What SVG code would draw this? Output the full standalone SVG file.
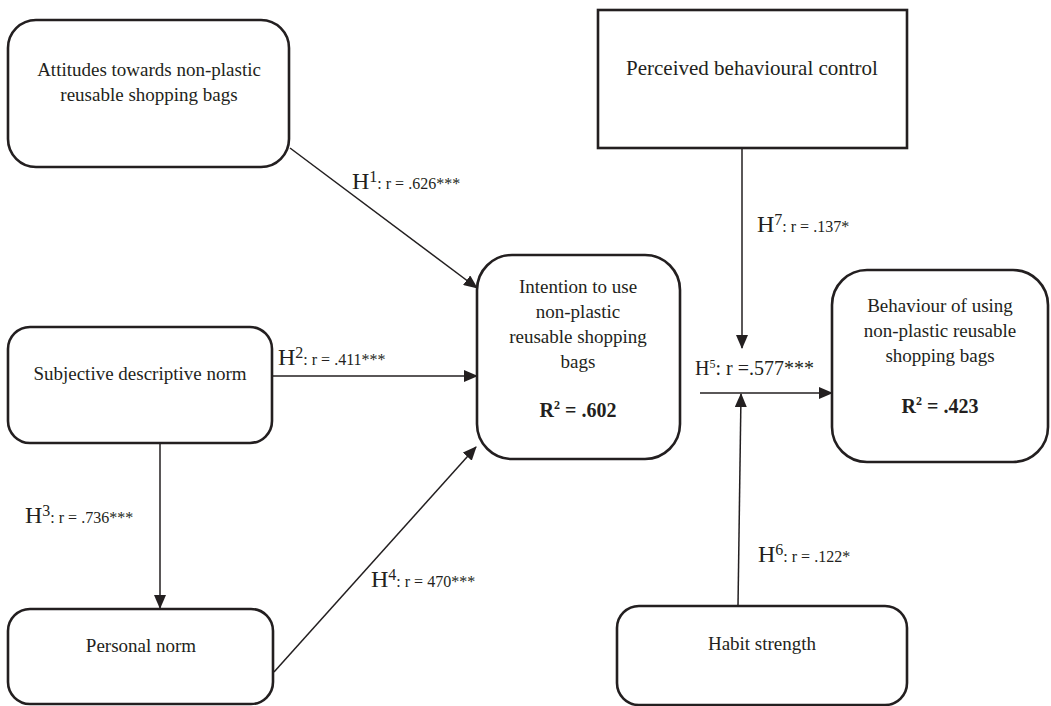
<svg xmlns="http://www.w3.org/2000/svg" width="1051" height="706" viewBox="0 0 1051 706">
<style>
.box{fill:#fff;stroke:#231f20;stroke-width:2.6}
.t{font-family:"Liberation Serif","Times New Roman",serif;font-size:19px;fill:#231f20;text-anchor:middle}
.b{font-weight:bold;font-size:20px}
.lab{font-family:"Liberation Serif","Times New Roman",serif;fill:#231f20;font-size:16px}
.big{font-size:24px}
.conn{stroke:#231f20;stroke-width:1.5;fill:none;marker-end:url(#arr)}
</style>
<defs>
<marker id="arr" markerUnits="userSpaceOnUse" markerWidth="14" markerHeight="12" refX="13" refY="6" orient="auto">
<path d="M0,0 L14,6 L0,12 Z" fill="#231f20"/>
</marker>
</defs>
<rect width="1051" height="706" fill="#fff"/>
<g id="connectors">
<line class="conn" x1="290" y1="148" x2="477" y2="288"/>
<line class="conn" x1="272" y1="376" x2="477" y2="376"/>
<line class="conn" x1="160" y1="443" x2="160" y2="608"/>
<line class="conn" x1="274" y1="672" x2="476" y2="447"/>
<line class="conn" x1="700" y1="393" x2="832" y2="393"/>
<line class="conn" x1="742" y1="148" x2="742" y2="348"/>
<line class="conn" x1="738" y1="606" x2="741" y2="394"/>
</g>
<g id="labels">
<text class="lab" x="352" y="189"><tspan class="big">H</tspan><tspan dy="-7">1</tspan><tspan dy="7">: r = .626***</tspan></text>
<text class="lab" x="278" y="365"><tspan class="big">H</tspan><tspan dy="-7">2</tspan><tspan dy="7">: r = .411***</tspan></text>
<text class="lab" x="25" y="523"><tspan class="big">H</tspan><tspan dy="-7">3</tspan><tspan dy="7">: r = .736***</tspan></text>
<text class="lab" x="371" y="587"><tspan class="big">H</tspan><tspan dy="-7">4</tspan><tspan dy="7">: r = 470***</tspan></text>
<text class="lab" x="695" y="375" style="font-size:20px"><tspan>H</tspan><tspan style="font-size:12px" dy="-7">5</tspan><tspan dy="7">: r =.577***</tspan></text>
<text class="lab" x="758" y="562"><tspan class="big">H</tspan><tspan dy="-7">6</tspan><tspan dy="7">: r = .122*</tspan></text>
<text class="lab" x="757" y="232"><tspan class="big">H</tspan><tspan dy="-7">7</tspan><tspan dy="7">: r = .137*</tspan></text>
</g>
<g id="attitudes">
<rect class="box" x="8" y="20" width="281" height="147" rx="28"/>
<text class="t" x="149" y="76">Attitudes towards non-plastic</text>
<text class="t" x="149" y="101">reusable shopping bags</text>
</g>
<g id="subjective">
<rect class="box" x="8" y="327" width="264" height="116" rx="22"/>
<text class="t" x="140" y="380">Subjective descriptive norm</text>
</g>
<g id="personal">
<rect class="box" x="8" y="609" width="265" height="95" rx="22"/>
<text class="t" x="141" y="652">Personal norm</text>
</g>
<g id="intention">
<rect class="box" x="477" y="255" width="203" height="204" rx="35"/>
<text class="t" x="578" y="293">Intention to use</text>
<text class="t" x="578" y="318">non-plastic</text>
<text class="t" x="578" y="343">reusable shopping</text>
<text class="t" x="578" y="368">bags</text>
<text class="t b" x="578" y="417">R<tspan style="font-size:12px" dy="-8">2</tspan><tspan dy="8"> = .602</tspan></text>
</g>
<g id="pbc">
<rect x="598" y="10" width="309" height="138" fill="#fff" stroke="#231f20" stroke-width="2.6"/>
<text class="t" x="752" y="75" style="font-size:21px">Perceived behavioural control</text>
</g>
<g id="behaviour">
<rect class="box" x="832" y="270" width="216" height="192" rx="35"/>
<text class="t" x="940" y="312">Behaviour of using</text>
<text class="t" x="940" y="337">non-plastic reusable</text>
<text class="t" x="940" y="362">shopping bags</text>
<text class="t b" x="940" y="413">R<tspan style="font-size:12px" dy="-8">2</tspan><tspan dy="8"> = .423</tspan></text>
</g>
<g id="habit">
<rect class="box" x="617" y="606" width="290" height="99" rx="22"/>
<text class="t" x="762" y="650">Habit strength</text>
</g>
</svg>
